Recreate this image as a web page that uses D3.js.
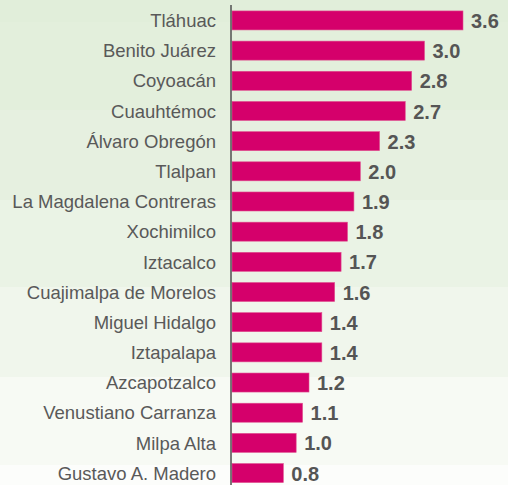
<!DOCTYPE html>
<html>
<head>
  <meta charset="utf-8">
  <title>Alcaldías</title>
  <script src="https://d3js.org/d3.v7.min.js"></script>
  <style>
    body { margin: 0; background: #fff; }
    svg { display: block; font-family: "Liberation Sans", Arial, sans-serif; }
  </style>
</head>
<body>
  <div id="chart"></div>
  <script>
    // data
    var alcaldias = ["Tláhuac", "Benito Juárez", "Coyoacán", "Cuauhtémoc", "Álvaro Obregón",
      "Tlalpan", "La Magdalena Contreras", "Xochimilco", "Iztacalco", "Cuajimalpa de Morelos",
      "Miguel Hidalgo", "Iztapalapa", "Azcapotzalco", "Venustiano Carranza", "Milpa Alta",
      "Gustavo A. Madero"];
    var valores = [3.6, 3.0, 2.8, 2.7, 2.3, 2.0, 1.9, 1.8, 1.7, 1.6, 1.4, 1.4, 1.2, 1.1, 1.0, 0.8];

    // background bands (top to bottom)
    var bandasY = [0, 22, 110, 200, 287, 377, 465];
    var bandasColor = ["#e1eeda", "#e3efdc", "#e6f0e0", "#eaf3e5", "#f0f6ec", "#f7faf4", "#fcfdfb"];

    var width = 508, height = 485;
    var margin = {top: 5, left: 232};

    var svg = d3.select("#chart").append("svg")
      .attr("width", width)
      .attr("height", height);

    // banded background
    svg.append("g").selectAll("rect")
      .data(bandasY)
      .enter().append("rect")
        .attr("x", 0)
        .attr("y", function(d) { return d; })
        .attr("width", width)
        .attr("height", function(d, i) { return (i < bandasY.length - 1 ? bandasY[i + 1] : height) - d; })
        .style("fill", function(d, i) { return bandasColor[i]; });

    var x = d3.scaleLinear()
      .domain([0, 3.6])
      .range([margin.left, margin.left + 231]);

    var y = d3.scaleBand()
      .domain(alcaldias)
      .range([5.5, 488])
      .paddingInner(0.37)
      .paddingOuter(0.18);

    var datos = alcaldias.map(function(a, i) { return {nombre: a, valor: valores[i]}; });

    // bars
    svg.append("g").selectAll("rect")
      .data(datos)
      .enter().append("rect")
        .attr("x", x(0))
        .attr("y", function(d) { return y(d.nombre); })
        .attr("width", function(d) { return x(d.valor) - x(0); })
        .attr("height", y.bandwidth())
        .style("fill", "#d5006b")
        .style("stroke", "#e0508f")
        .style("stroke-width", 0.6);

    // category axis (labels only + line)
    var eje = svg.append("g")
      .attr("transform", "translate(" + (margin.left - 1) + ",0)")
      .call(d3.axisLeft(y).tickSize(0).tickPadding(15));
    eje.select(".domain")
      .attr("d", "M0," + margin.top + "V" + height)
      .style("stroke", "#595959")
      .style("stroke-width", 1.6);
    eje.selectAll("text")
      .style("font-size", "18.5px")
      .style("font-family", "'Liberation Sans', Arial, sans-serif")
      .style("fill", "#595959")
      .attr("dy", "0.36em");

    // value labels
    svg.append("g").selectAll("text")
      .data(datos)
      .enter().append("text")
        .attr("x", function(d) { return x(d.valor) + 8; })
        .attr("y", function(d) { return y(d.nombre) + y.bandwidth() / 2; })
        .attr("dy", "0.38em")
        .style("font-size", "20px")
        .style("font-weight", "bold")
        .style("fill", "#555555")
        .text(function(d) { return d3.format(".1f")(d.valor); });
  </script>
</body>
</html>
